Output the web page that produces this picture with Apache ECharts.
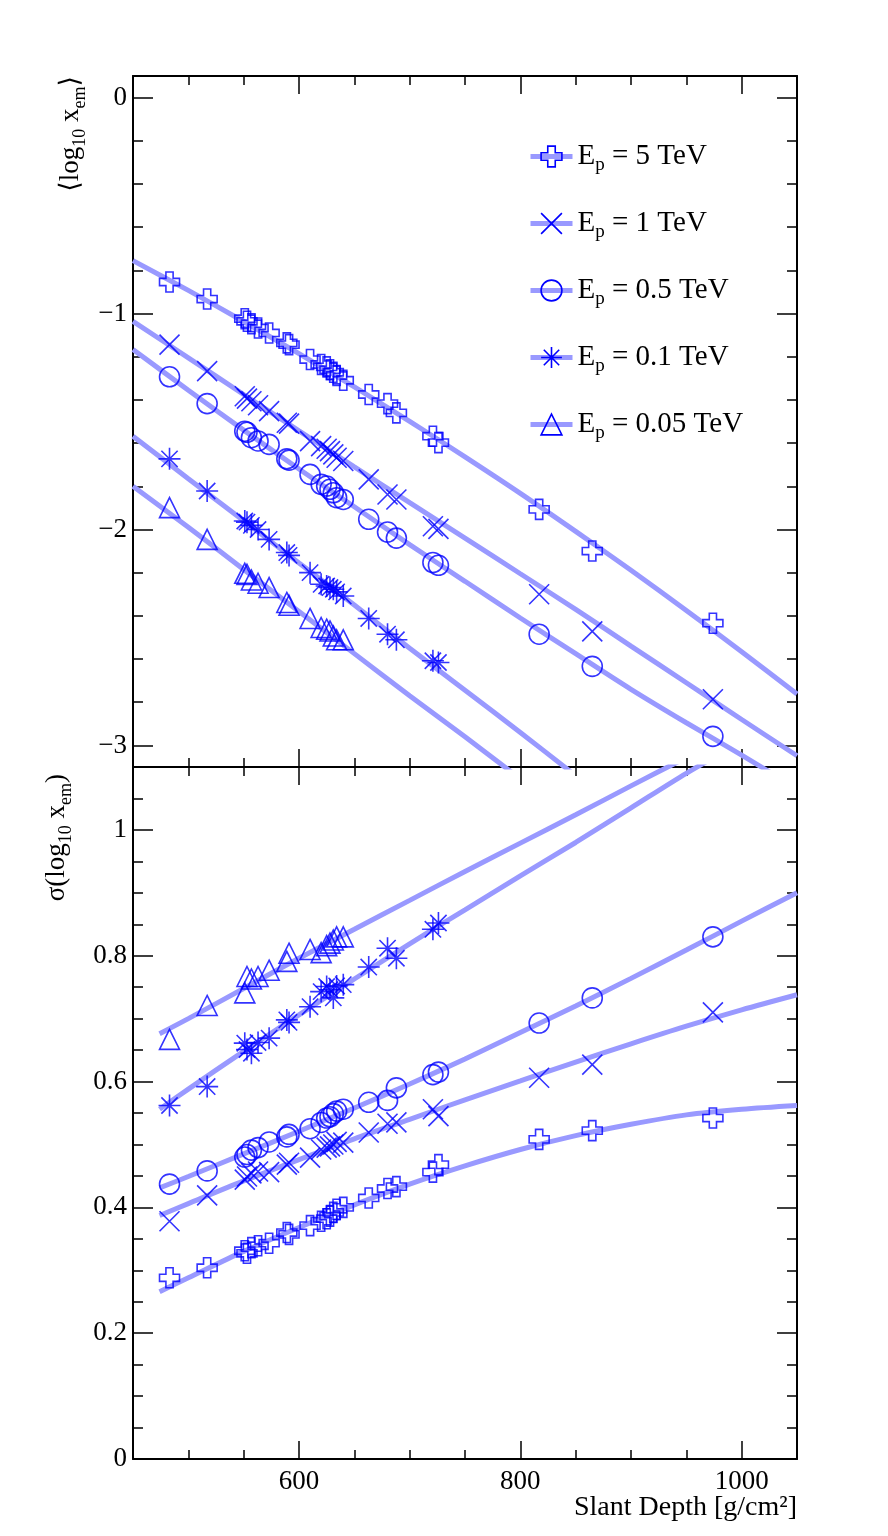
<!DOCTYPE html>
<html>
<head>
<meta charset="utf-8">
<title>log10 x_em vs slant depth</title>
<script src="https://cdn.jsdelivr.net/npm/echarts@6.0.0/dist/echarts.min.js"></script>
<style>
  html, body { margin: 0; padding: 0; background: #fff; }
  #chart { width: 888px; height: 1536px; }
</style>
</head>
<body>
<div id="chart"></div>
<script>
// slant depth of the shower samples [g/cm2]
const depth = [483, 517, 551, 553, 557, 563, 573, 589, 591, 610, 620, 625, 628, 631, 634, 640,
  663, 680, 688, 721, 726, 817, 865, 974];

// <log10 x_em> per primary energy (0.1 TeV has 21 points, 0.05 TeV has 16)
const mean5 = [-0.854, -0.933, -1.024, -1.036, -1.047, -1.067, -1.090, -1.136, -1.144, -1.213, -1.236, -1.247,
  -1.260, -1.272, -1.287, -1.309, -1.375, -1.417, -1.460, -1.568, -1.598, -1.907, -2.100, -2.434];
const mean1 = [-1.144, -1.267, -1.383, -1.394, -1.406, -1.425, -1.452, -1.506, -1.510, -1.591, -1.614, -1.626,
  -1.637, -1.652, -1.668, -1.683, -1.768, -1.838, -1.861, -1.985, -1.997, -2.300, -2.472, -2.786];
const mean05 = [-1.293, -1.417, -1.545, -1.550, -1.575, -1.590, -1.606, -1.673, -1.679, -1.745, -1.791, -1.799,
  -1.814, -1.830, -1.853, -1.861, -1.953, -2.012, -2.040, -2.153, -2.166, -2.485, -2.634, -2.958];
const mean01 = [-1.673, -1.822, -1.961, -1.966, -1.981, -2.000, -2.046, -2.107, -2.120, -2.200, -2.254, -2.262,
  -2.269, -2.277, -2.289, -2.308, -2.412, -2.485, -2.511, -2.608, -2.616];
const mean005 = [-1.899, -2.046, -2.203, -2.208, -2.234, -2.249, -2.269, -2.338, -2.351, -2.412, -2.454, -2.462,
  -2.470, -2.493, -2.511, -2.511];

// sigma(log10 x_em)
const sigma5 = [0.288, 0.304, 0.331, 0.327, 0.336, 0.339, 0.343, 0.360, 0.357, 0.371, 0.378, 0.382,
  0.386, 0.392, 0.397, 0.400, 0.415, 0.430, 0.433, 0.456, 0.468, 0.508, 0.522, 0.542];
const sigma1 = [0.378, 0.419, 0.444, 0.449, 0.454, 0.457, 0.456, 0.468, 0.471, 0.479, 0.492, 0.495,
  0.497, 0.500, 0.504, 0.503, 0.519, 0.533, 0.535, 0.556, 0.545, 0.606, 0.627, 0.710];
const sigma05 = [0.437, 0.458, 0.480, 0.484, 0.491, 0.495, 0.504, 0.512, 0.516, 0.525, 0.535, 0.542,
  0.544, 0.549, 0.553, 0.556, 0.567, 0.570, 0.590, 0.611, 0.615, 0.693, 0.733, 0.830];
const sigma01 = [0.562, 0.592, 0.661, 0.651, 0.645, 0.662, 0.669, 0.698, 0.694, 0.719, 0.743, 0.751,
  0.746, 0.733, 0.752, 0.754, 0.782, 0.812, 0.796, 0.842, 0.852];
const sigma005 = [0.667, 0.721, 0.741, 0.767, 0.763, 0.767, 0.777, 0.791, 0.804, 0.810, 0.805, 0.816,
  0.820, 0.825, 0.830, 0.830];

// fitted curves
const fitDepthTop = [450, 500, 550, 600, 650, 700, 750, 800, 850, 900, 950, 1000, 1050];
const fitMean5 = [-0.755, -0.893, -1.037, -1.186, -1.340, -1.499, -1.664, -1.833, -2.009, -2.189, -2.375, -2.566, -2.762];
const fitMean1 = [-1.036, -1.205, -1.375, -1.543, -1.710, -1.876, -2.040, -2.205, -2.370, -2.540, -2.710, -2.880, -3.048];
const fitMean05 = [-1.167, -1.355, -1.540, -1.720, -1.895, -2.070, -2.240, -2.410, -2.575, -2.740, -2.895, -3.045, -3.200];
const fitMean01 = [-1.568, -1.765, -1.960, -2.155, -2.350, -2.550, -2.745, -2.940, -3.140];
const fitMean005 = [-1.800, -1.990, -2.185, -2.380, -2.575, -2.770, -2.960, -3.155];

const fitDepthBottom = [474, 500, 550, 600, 650, 700, 750, 800, 850, 900, 950, 1000, 1050];
const fitSigma5 = [0.266, 0.288, 0.330, 0.368, 0.404, 0.437, 0.466, 0.492, 0.514, 0.532, 0.547, 0.556, 0.562];
const fitSigma1 = [0.387, 0.406, 0.442, 0.476, 0.509, 0.540, 0.571, 0.601, 0.631, 0.660, 0.688, 0.714, 0.738];
const fitSigma05 = [0.431, 0.449, 0.485, 0.521, 0.558, 0.596, 0.636, 0.678, 0.720, 0.764, 0.809, 0.855, 0.900];
const fitSigma01 = [0.556, 0.588, 0.648, 0.706, 0.763, 0.819, 0.873, 0.927, 0.980, 1.035, 1.090, 1.140];
const fitSigma005 = [0.676, 0.700, 0.748, 0.796, 0.842, 0.888, 0.934, 0.979, 1.024, 1.070, 1.115];

const energyLabels = ['5 TeV', '1 TeV', '0.5 TeV', '0.1 TeV', '0.05 TeV'];

const FONT = 'Liberation Serif, DejaVu Serif, serif';
const MARK = '#0000ff';
const FIT = '#9999ff';

const OPEN_CROSS = 'path://M3.2,0H6.8V3.2H10V6.8H6.8V10H3.2V6.8H0V3.2H3.2Z';
const X_MARK = 'path://M0,0L10,10M10,0L0,10';
const STAR = 'path://M5,0L5,10M0,5L10,5M1.3,1.3L8.7,8.7M8.7,1.3L1.3,8.7';

const sets = [
  { symbol: OPEN_CROSS, size: 20, mean: mean5, sigma: sigma5, fitMean: fitMean5, fitSigma: fitSigma5 },
  { symbol: X_MARK, size: 20, mean: mean1, sigma: sigma1, fitMean: fitMean1, fitSigma: fitSigma1 },
  { symbol: 'circle', size: 20, mean: mean05, sigma: sigma05, fitMean: fitMean05, fitSigma: fitSigma05 },
  { symbol: STAR, size: 22, mean: mean01, sigma: sigma01, fitMean: fitMean01, fitSigma: fitSigma01 },
  { symbol: 'triangle', size: 20, mean: mean005, sigma: sigma005, fitMean: fitMean005, fitSigma: fitSigma005 },
];

const markerStyle = { color: 'rgba(0,0,0,0)', borderColor: MARK, borderWidth: 1.6 };

// subscripts via rich text: small token pushed to the bottom of a tall line
const rich = {
  b: { fontFamily: FONT, fontSize: 27, lineHeight: 36, color: '#000' },
  l: { fontFamily: FONT, fontSize: 29, lineHeight: 36, color: '#000' },
  s: { fontFamily: FONT, fontSize: 18, lineHeight: 6, verticalAlign: 'bottom', color: '#000' },
  t: { fontFamily: FONT, fontSize: 19, lineHeight: 6, verticalAlign: 'bottom', color: '#000' },
};

function pairs(xs, ys) {
  return ys.map((y, i) => [xs[i], y]);
}

function xAxis(gridIndex, position, labels) {
  return {
    type: 'value', gridIndex, position, min: 450, max: 1050, splitNumber: 3,
    axisLine: { onZero: false, lineStyle: { color: '#000', width: 2 } },
    axisTick: { inside: true, length: 18, lineStyle: { color: '#000', width: 1.5 } },
    minorTick: { show: true, splitNumber: 4, length: 9, lineStyle: { color: '#000', width: 1.5 } },
    axisLabel: { show: labels, showMinLabel: false, showMaxLabel: false, margin: 9,
      color: '#000', fontFamily: FONT, fontSize: 27, formatter: (v) => String(v) },
    splitLine: { show: false },
  };
}

function yAxis(gridIndex, position, labels, extra) {
  return Object.assign({
    type: 'value', gridIndex, position,
    axisLine: { onZero: false, lineStyle: { color: '#000', width: 2 } },
    axisTick: { inside: true, length: 20, lineStyle: { color: '#000', width: 1.5 } },
    axisLabel: { show: labels, showMaxLabel: false, margin: 6, color: '#000', fontFamily: FONT, fontSize: 27,
      formatter: (v) => String(v).replace('-', '\u2212') },
    splitLine: { show: false },
  }, extra);
}

const topY = { min: -3.1, max: 0.1, splitNumber: 3,
  minorTick: { show: true, splitNumber: 5, length: 10, lineStyle: { color: '#000', width: 1.5 } } };
const bottomY = { min: 0, max: 1.1, interval: 0.2,
  minorTick: { show: true, splitNumber: 4, length: 10, lineStyle: { color: '#000', width: 1.5 } } };

const series = [];
// top fits first so the legend takes its icon (line + marker) from them
sets.forEach((s, k) => {
  series.push({
    name: energyLabels[k], type: 'line', xAxisIndex: 0, yAxisIndex: 0,
    data: pairs(fitDepthTop, s.fitMean), showSymbol: false, symbol: s.symbol, symbolSize: s.size,
    smooth: 0.3, lineStyle: { color: FIT, width: 5 }, itemStyle: markerStyle, z: 2, silent: true,
  });
});
sets.forEach((s, k) => {
  series.push({
    name: energyLabels[k], type: 'line', xAxisIndex: 2, yAxisIndex: 2,
    data: pairs(fitDepthBottom, s.fitSigma), showSymbol: false, symbol: s.symbol, symbolSize: s.size,
    smooth: 0.3, lineStyle: { color: FIT, width: 5 }, itemStyle: markerStyle, z: 2, silent: true,
  });
  series.push({
    name: energyLabels[k], type: 'scatter', xAxisIndex: 0, yAxisIndex: 0,
    data: pairs(depth, s.mean), symbol: s.symbol, symbolSize: s.size, itemStyle: markerStyle, z: 3, silent: true,
  });
  series.push({
    name: energyLabels[k], type: 'scatter', xAxisIndex: 2, yAxisIndex: 2,
    data: pairs(depth, s.sigma), symbol: s.symbol, symbolSize: s.size, itemStyle: markerStyle, z: 3, silent: true,
  });
});

const chart = echarts.init(document.getElementById('chart'), null, { renderer: 'canvas' });
chart.setOption({
  animation: false,
  backgroundColor: '#fff',
  grid: [
    { left: 133, right: 91, top: 76, height: 691, outerBoundsMode: 'none' },
    { left: 133, right: 91, top: 767, height: 692, outerBoundsMode: 'none' },
  ],
  xAxis: [
    xAxis(0, 'bottom', false),
    xAxis(0, 'top', false),
    xAxis(1, 'bottom', true),
    xAxis(1, 'top', false),
  ],
  yAxis: [
    yAxis(0, 'left', true, topY),
    yAxis(0, 'right', false, topY),
    yAxis(1, 'left', true, bottomY),
    yAxis(1, 'right', false, bottomY),
  ],
  legend: {
    orient: 'vertical', left: 528, top: 142, itemGap: 34.5, padding: 0,
    itemWidth: 42, itemHeight: 26, selectedMode: false,
    data: energyLabels,
    itemStyle: { color: 'rgba(0,0,0,0)', borderColor: MARK, borderWidth: 1.6 },
    lineStyle: { color: FIT, width: 5 },
    formatter: (name) => '{l|E}{t|p}{l| = ' + name + '}',
    textStyle: { fontFamily: FONT, fontSize: 29, color: '#000', rich },
  },
  graphic: [
    { type: 'text', x: 71, y: 76, rotation: Math.PI / 2, silent: true,
      style: { text: '{b|\u27e8log}{s|10}{b| x}{s|em}{b|\u27e9}', rich, align: 'right', verticalAlign: 'middle' } },
    { type: 'text', x: 57, y: 774, rotation: Math.PI / 2, silent: true,
      style: { text: '{b|\u03c3(log}{s|10}{b| x}{s|em}{b|)}', rich, align: 'right', verticalAlign: 'middle' } },
    { type: 'text', x: 797, y: 1508, silent: true,
      style: { text: 'Slant Depth [g/cm\u00b2]', fill: '#000', fontFamily: FONT, fontSize: 28,
        align: 'right', verticalAlign: 'middle' } },
  ],
  series,
});
</script>
</body>
</html>
